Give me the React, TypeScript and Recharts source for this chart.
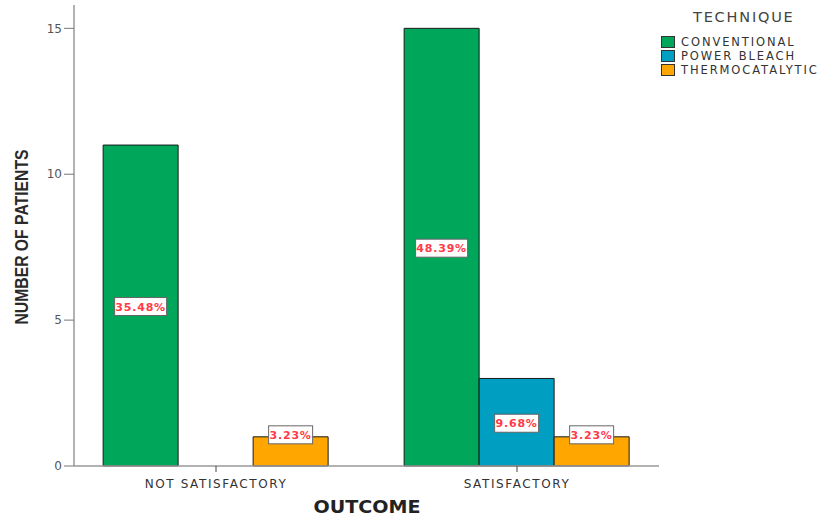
import { BarChart, Bar, XAxis, YAxis, LabelList } from "recharts";

const outcomes = ["NOT SATISFACTORY", "SATISFACTORY"];
const conventional = [11, 15];
const powerBleach = [0, 3];
const thermocatalytic = [1, 1];
const conventionalPct = ["35.48%", "48.39%"];
const powerBleachPct = ["", "9.68%"];
const thermoPct = ["3.23%", "3.23%"];
const yTicks = [0, 5, 10, 15];

const data = outcomes.map((o, i) => ({
  outcome: o,
  conventional: conventional[i],
  powerBleach: powerBleach[i],
  thermocatalytic: thermocatalytic[i],
  convPct: conventionalPct[i],
  pbPct: powerBleachPct[i],
  thPct: thermoPct[i],
}));

const series = [
  { key: "conventional", name: "CONVENTIONAL", color: "#00a65a", pct: "convPct" },
  { key: "powerBleach", name: "POWER BLEACH", color: "#009fc2", pct: "pbPct" },
  { key: "thermocatalytic", name: "THERMOCATALYTIC", color: "#ffa600", pct: "thPct" },
];

const PctLabel = (props: any) => {
  const { x, y, width, height, value } = props;
  if (!value || !height) return null;
  const cx = x + width / 2;
  const cy = height < 40 ? y - 2 : y + height / 2 + 1;
  const w = value.length * 8 + 4;
  return (
    <g>
      <rect x={cx - w / 2} y={cy - 9} width={w} height={18} fill="#fff" stroke="#666" strokeWidth={1} />
      <text
        x={cx}
        y={cy + 4}
        textAnchor="middle"
        fill="#ff3a46"
        fontSize={11}
        fontWeight="bold"
        fontFamily="DejaVu Sans"
        letterSpacing={0.8}
      >
        {value}
      </text>
    </g>
  );
};

const CatTick = ({ x, y, payload }: any) => (
  <text
    x={x}
    y={y + 14}
    textAnchor="middle"
    fill="#333"
    fontSize={12}
    fontFamily="DejaVu Sans"
    letterSpacing={1.6}
  >
    {payload.value}
  </text>
);

// legend drawn as plain html so it does not eat into the plot area
const LegendBox = () => (
  <div style={{ position: "absolute", left: 661, top: 10, fontFamily: "DejaVu Sans", color: "#333" }}>
    <div style={{ fontSize: 14.5, color: "#444", position: "absolute", left: 32, top: -1, letterSpacing: 1.8, whiteSpace: "nowrap" }}>
      TECHNIQUE
    </div>
    <div style={{ position: "absolute", left: 0, top: 25 }}>
      {series.map((s) => (
        <div key={s.key} style={{ display: "flex", alignItems: "center", height: 14, whiteSpace: "nowrap" }}>
          <span
            style={{
              display: "inline-block",
              width: 14,
              height: 12,
              background: s.color,
              border: "1px solid #333",
              marginRight: 6,
              boxSizing: "border-box",
            }}
          />
          <span style={{ fontSize: 11.5, letterSpacing: 1.9 }}>{s.name}</span>
        </div>
      ))}
    </div>
  </div>
);

export default function App() {
  return (
    <div style={{ position: "absolute", left: 0, top: 0, width: 830, height: 517, background: "#fff" }}>
      <BarChart
        width={830}
        height={517}
        data={data}
        margin={{ top: 5, right: 171, bottom: 21, left: 0 }}
        barCategoryGap="12.5%"
        barGap={0}
      >
        <XAxis
          dataKey="outcome"
          height={30}
          padding={{ left: -8.5, right: -8.5 }}
          stroke="#888"
          tickSize={6}
          tick={<CatTick />}
          tickLine={{ stroke: "#444" }}
          axisLine={{ stroke: "#999", strokeWidth: 1.5 }}
        />
        <YAxis
          width={74}
          domain={[0, 15.8]}
          ticks={yTicks}
          tickSize={10}
          axisLine={{ stroke: "#999", strokeWidth: 1.5 }}
          tickLine={{ stroke: "#777" }}
          tick={{ fill: "#555", fontSize: 12, fontFamily: "DejaVu Sans" }}
        />
        {series.map((s) => (
          <Bar
            key={s.key}
            dataKey={s.key}
            name={s.name}
            fill={s.color}
            stroke="#1a1a1a"
            strokeWidth={1}
            isAnimationActive={false}
          >
            <LabelList dataKey={s.pct} content={<PctLabel />} />
          </Bar>
        ))}
      </BarChart>
      <LegendBox />
      <svg width={830} height={517} style={{ position: "absolute", left: 0, top: 0, pointerEvents: "none" }}>
        <text
          x={0}
          y={0}
          transform="translate(28 237) rotate(-90)"
          textAnchor="middle"
          fontFamily="Liberation Sans"
          fontWeight="bold"
          fontSize={19}
          fill="#2a2a2a"
          textLength={175}
          lengthAdjust="spacingAndGlyphs"
        >
          NUMBER OF PATIENTS
        </text>
        <text
          x={367}
          y={513}
          textAnchor="middle"
          fontFamily="DejaVu Sans"
          fontWeight="bold"
          fontSize={17}
          fill="#222"
          textLength={107}
          lengthAdjust="spacingAndGlyphs"
        >
          OUTCOME
        </text>
      </svg>
    </div>
  );
}
